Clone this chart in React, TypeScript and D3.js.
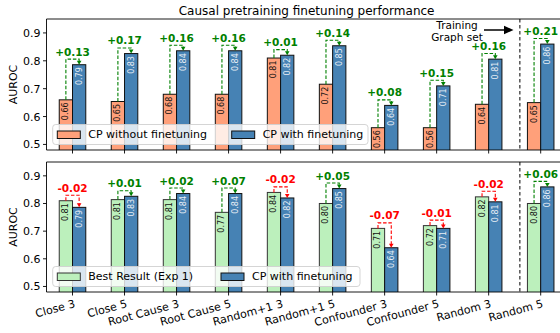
import React from 'react';
import * as d3 from 'd3';

const categories = ['Close 3', 'Close 5', 'Root Cause 3', 'Root Cause 5', 'Random+1 3',
  'Random+1 5', 'Confounder 3', 'Confounder 5', 'Random 3', 'Random 5'];
// top panel: causal pretraining without finetuning
const cpNoFinetune = [0.66, 0.654, 0.68, 0.68, 0.81, 0.716, 0.56, 0.56, 0.644, 0.65];
// both panels: causal pretraining with finetuning
const cpFinetune = [0.786, 0.826, 0.836, 0.836, 0.82, 0.854, 0.64, 0.71, 0.806, 0.86];
// bottom panel: best result of experiment 1
const bestExp1 = [0.81, 0.814, 0.814, 0.768, 0.84, 0.80, 0.71, 0.72, 0.824, 0.80];
const yTicks = [0.5, 0.6, 0.7, 0.8, 0.9];
const yDomain = [0.48, 0.95];
const splitAt = 8.6; // training graph set boundary

const FONT = 'DejaVu Sans, sans-serif';
const left = 46.5;
const right = 566.7;
const barW = 0.255;

const x = d3.scaleLinear().domain([-0.5, 9.5]).range([left, right]);

type PanelProps = {
  id: string; top: number; bottom: number; base: number[]; baseColor: string; baseEdge: string;
  baseName: string; legendW: number; col2: number; showLabels: boolean; showTraining: boolean;
};

function Panel({ id, top, bottom, base, baseColor, baseEdge, baseName, legendW, col2, showLabels, showTraining }: PanelProps) {
  const y = d3.scaleLinear().domain(yDomain).range([bottom, top]);
  const bw = x(barW) - x(0);
  const mid = (top + bottom) / 2;
  const legTop = bottom - 25.5;
  return (
    <g fontFamily={FONT}>
      <defs>
        <clipPath id={'clip' + id}>
          <rect x={left} y={top} width={right - left} height={bottom - top} />
        </clipPath>
      </defs>
      <g clipPath={`url(#clip${id})`}>
        {categories.map((c, i) => {
          const cx = x(i);
          const a = base[i];
          const b = cpFinetune[i];
          return (
            <g key={c}>
              <rect x={cx - bw} y={y(a)} width={bw} height={bottom + 5 - y(a)}
                fill={baseColor} stroke={baseEdge} strokeWidth={1} />
              <rect x={cx} y={y(b)} width={bw} height={bottom + 5 - y(b)}
                fill="#4682b4" stroke="#111" strokeWidth={1} />
              <text transform={`translate(${cx - bw / 2},${y(a) + 2.5}) rotate(-90)`}
                textAnchor="end" dominantBaseline="central" fontSize={8} fill="#111">{a.toFixed(2)}</text>
              <text transform={`translate(${cx + bw / 2},${y(b) + 2.5}) rotate(-90)`}
                textAnchor="end" dominantBaseline="central" fontSize={8} fill="#e8eef5">{b.toFixed(2)}</text>
            </g>
          );
        })}
        <line x1={x(splitAt)} x2={x(splitAt)} y1={top} y2={bottom}
          stroke="#000" strokeWidth={1} strokeDasharray="3.5,2.5" />
      </g>
      {categories.map((c, i) => {
        const cx = x(i);
        const a = base[i];
        const b = cpFinetune[i];
        const d = b - a;
        const col = d >= 0 ? '#008000' : '#ff0000';
        const xa = cx - bw / 2;
        const xb = cx + bw / 2;
        const yb = y(Math.max(a, b) + 0.02);
        const tip = y(b);
        return (
          <g key={'ann' + c}>
            <path d={`M${xa},${y(a)}V${yb}H${xb}V${tip - 3.5}`} fill="none"
              stroke={col} strokeWidth={1.1} strokeDasharray="3.5,1.8" />
            <path d={`M${xb - 2.3},${tip - 4}L${xb + 2.3},${tip - 4}L${xb},${tip}Z`} fill={col} />
            <text x={cx} y={yb - 3.5} textAnchor="middle" fontSize={10.5} fontWeight="bold" fill={col}>
              {(d >= 0 ? '+' : '') + d.toFixed(2)}
            </text>
          </g>
        );
      })}
      {/* spines */}
      <path d={`M${right},${top}H${left}V${bottom}H${right}`} fill="none" stroke="#000" strokeWidth={0.9} />
      {yTicks.map(t => (
        <g key={t}>
          <line x1={left - 3.5} x2={left} y1={y(t)} y2={y(t)} stroke="#000" strokeWidth={0.9} />
          <text x={left - 6} y={y(t)} dy="0.36em" textAnchor="end" fontSize={11} fill="#000">{t.toFixed(1)}</text>
        </g>
      ))}
      {categories.map((c, i) => (
        <g key={'xt' + c}>
          <line x1={x(i)} x2={x(i)} y1={bottom} y2={bottom + 3.5} stroke="#000" strokeWidth={0.9} />
          {showLabels && (
            <text transform={`translate(${x(i) + 1},${bottom + 7}) rotate(-15)`} textAnchor="end"
              dy="0.75em" fontSize={11} fill="#000">{c}</text>
          )}
        </g>
      ))}
      <text transform={`translate(13,${mid}) rotate(-90)`} textAnchor="middle" dy="0.36em" fontSize={11}>AUROC</text>
      {/* legend */}
      <g>
        <rect x={52.7} y={legTop} width={legendW} height={20} rx={3} fill="#fff" fillOpacity={0.8} stroke="#d0d0d0" strokeWidth={0.9} />
        <rect x={57.3} y={legTop + 6.5} width={23} height={7.5} fill={baseColor} stroke={baseEdge} strokeWidth={1} />
        <text x={88.3} y={legTop + 10} dy="0.36em" fontSize={11}>{baseName}</text>
        <rect x={col2} y={legTop + 6.5} width={23} height={7.5} fill="#4682b4" stroke="#111" strokeWidth={1} />
        <text x={col2 + 31} y={legTop + 10} dy="0.36em" fontSize={11}>CP with finetuning</text>
      </g>
      {showTraining && (
        <g>
          <text x={457} y={28.5} textAnchor="middle" fontSize={10.5}>Training</text>
          <text x={457} y={40.5} textAnchor="middle" fontSize={10.5}>Graph set</text>
          <line x1={484} x2={505} y1={30} y2={30} stroke="#000" strokeWidth={1.5} />
          <path d="M504,25.8L513.5,30L504,34.2Z" fill="#000" />
        </g>
      )}
    </g>
  );
}

export default function App() {
  return (
    <svg width={560} height={333} style={{ position: 'absolute', left: 0, top: 0, background: '#fff' }}>
      <rect width={560} height={333} fill="#fff" />
      <text x={306.6} y={15} textAnchor="middle" fontFamily={FONT} fontSize={12}>
        Causal pretraining finetuning performance
      </text>
      <Panel id="a" top={19} bottom={150} base={cpNoFinetune} baseColor="#ffa07a" baseEdge="#111"
        baseName="CP without finetuning" legendW={315.3} col2={231.7} showLabels={false} showTraining={true} />
      <Panel id="b" top={162} bottom={292} base={bestExp1} baseColor="#bcf0bc" baseEdge="#333"
        baseName="Best Result (Exp 1)" legendW={307.3} col2={221} showLabels={true} showTraining={false} />
    </svg>
  );
}
